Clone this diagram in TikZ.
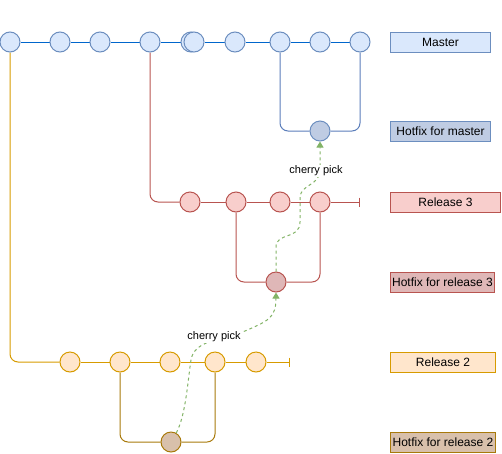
\documentclass[tikz,border=0pt]{standalone}
\usepackage{fontspec}
\setmainfont{Liberation Sans}
\usepackage{xcolor}
\usetikzlibrary{positioning, arrows.meta, backgrounds}

\definecolor{masterline}{HTML}{0066CC}
\definecolor{masterfill}{HTML}{DAE8FC}
\definecolor{masterdraw}{HTML}{6C8EBF}
\definecolor{hotmfill}{HTML}{BFCCE3}
\definecolor{hotmline}{HTML}{5A7DBA}
\definecolor{relthreefill}{HTML}{F8CECC}
\definecolor{relthreedraw}{HTML}{B85450}
\definecolor{hotthreefill}{HTML}{DFB7B7}
\definecolor{reltwofill}{HTML}{FFE6CC}
\definecolor{reltwodraw}{HTML}{D79B00}
\definecolor{hottwofill}{HTML}{D8C0AB}
\definecolor{hottwodraw}{HTML}{A8790A}
\definecolor{cherry}{HTML}{82B366}

\tikzset{
    commit/.style={circle, minimum size=20pt, inner sep=0pt, line width=1pt},
    mastercommit/.style={commit, draw=masterdraw, fill=masterfill},
    hotmcommit/.style={commit, draw=masterdraw, fill=hotmfill},
    relthreecommit/.style={commit, draw=relthreedraw, fill=relthreefill},
    hotthreecommit/.style={commit, draw=relthreedraw, fill=hotthreefill},
    reltwocommit/.style={commit, draw=reltwodraw, fill=reltwofill},
    hottwocommit/.style={commit, draw=hottwodraw, fill=hottwofill},
    branchbox/.style={anchor=west, minimum height=20pt, inner sep=0pt, line width=1pt, font=\fontsize{12}{14}\selectfont},
    branchline/.style={line width=1pt, rounded corners=8pt},
    cherryline/.style={line width=1pt, draw=cherry, dash pattern=on 3pt off 3pt, -{Triangle[width=7pt,length=6pt,fill=cherry]}},
    cherrylabel/.style={fill=white, inner sep=1pt, font=\fontsize{11}{13}\selectfont}
}

\begin{document}
\begin{tikzpicture}[x=1pt, y=-1pt]
    \useasboundingbox (0,0) rectangle (502,453);

    % Master branch commits
    \foreach \x [count=\i] in {10,60,100,150,191,194,235,280,320,360} {
        \node[mastercommit] (m\i) at (\x,42) {};
    }
    % Hotfix for master
    \node[hotmcommit] (hm) at (320,131) {};

    % Release 3 commits
    \foreach \x [count=\i] in {190,236,280,320} {
        \node[relthreecommit] (r\i) at (\x,202) {};
    }
    \coordinate (rthreeend) at (360,202);
    % Hotfix for release 3
    \node[hotthreecommit] (hr3) at (276,282) {};

    % Release 2 commits
    \foreach \x [count=\i] in {70,120,170,215,256} {
        \node[reltwocommit] (s\i) at (\x,362) {};
    }
    \coordinate (rtwoend) at (290,362);
    % Hotfix for release 2
    \node[hottwocommit] (hr2) at (171,442) {};

    % branch lines (behind the commits)
    \begin{scope}[on background layer]
        \draw[branchline, masterline] (m1) -- (m2) -- (m3) -- (m4) -- (m5);
        \draw[branchline, masterline] (m6) -- (m7) -- (m8) -- (m9) -- (m10);
        \draw[branchline, hotmline] (m8.south) |- (hm.west);
        \draw[branchline, hotmline] (hm.east) -| (m10.south);

        \draw[branchline, relthreedraw] (m4.south) |- (r1.west);
        \draw[branchline, relthreedraw] (r1) -- (r2) -- (r3) -- (r4);
        \draw[branchline, relthreedraw, -{Bar[width=9pt]}] (r4) -- (rthreeend);
        \draw[branchline, relthreedraw] (r2.south) |- (hr3.west);
        \draw[branchline, relthreedraw] (hr3.east) -| (r4.south);

        \draw[branchline, reltwodraw] (m1.south) |- (s1.west);
        \draw[branchline, reltwodraw] (s1) -- (s2) -- (s3) -- (s4) -- (s5);
        \draw[branchline, reltwodraw, -{Bar[width=9pt]}] (s5) -- (rtwoend);
        \draw[branchline, hottwodraw] (s2.south) |- (hr2.west);
        \draw[branchline, hottwodraw] (hr2.east) -| (s4.south);
    \end{scope}

    % cherry picks
    \draw[cherryline] (hr2.60) .. controls (186,415) and (188,378) .. (191,360)
        .. controls (194,340) and (222,340) .. (245,331)
        .. controls (268,321) and (276,318) .. (hr3.south);
    \node[cherrylabel] (cp1) at (214,337) {cherry pick};

    \draw[cherryline] (hr3.north) -- (276,247)
        .. controls (276,232) and (300,240) .. (300,222) -- (300,198)
        .. controls (300,184) and (320,186) .. (320,170) -- (hm.south);
    \node[cherrylabel] (cp2) at (316,171) {cherry pick};

    % branch names
    \node[branchbox, draw=masterdraw, fill=masterfill, minimum width=100pt] (lmaster) at (390,42) {Master};
    \node[branchbox, draw=masterdraw, fill=hotmfill, minimum width=100pt] (lhotm) at (390,131) {Hotfix for master};
    \node[branchbox, draw=relthreedraw, fill=relthreefill, minimum width=110pt] (lrel3) at (390,202) {Release 3};
    \node[branchbox, draw=relthreedraw, fill=hotthreefill, minimum width=104pt] (lhot3) at (390,282) {Hotfix for release 3};
    \node[branchbox, draw=reltwodraw, fill=reltwofill, minimum width=105pt] (lrel2) at (390,362) {Release 2};
    \node[branchbox, draw=hottwodraw, fill=hottwofill, minimum width=105pt] (lhot2) at (390,442) {Hotfix for release 2};
\end{tikzpicture}
\end{document}
